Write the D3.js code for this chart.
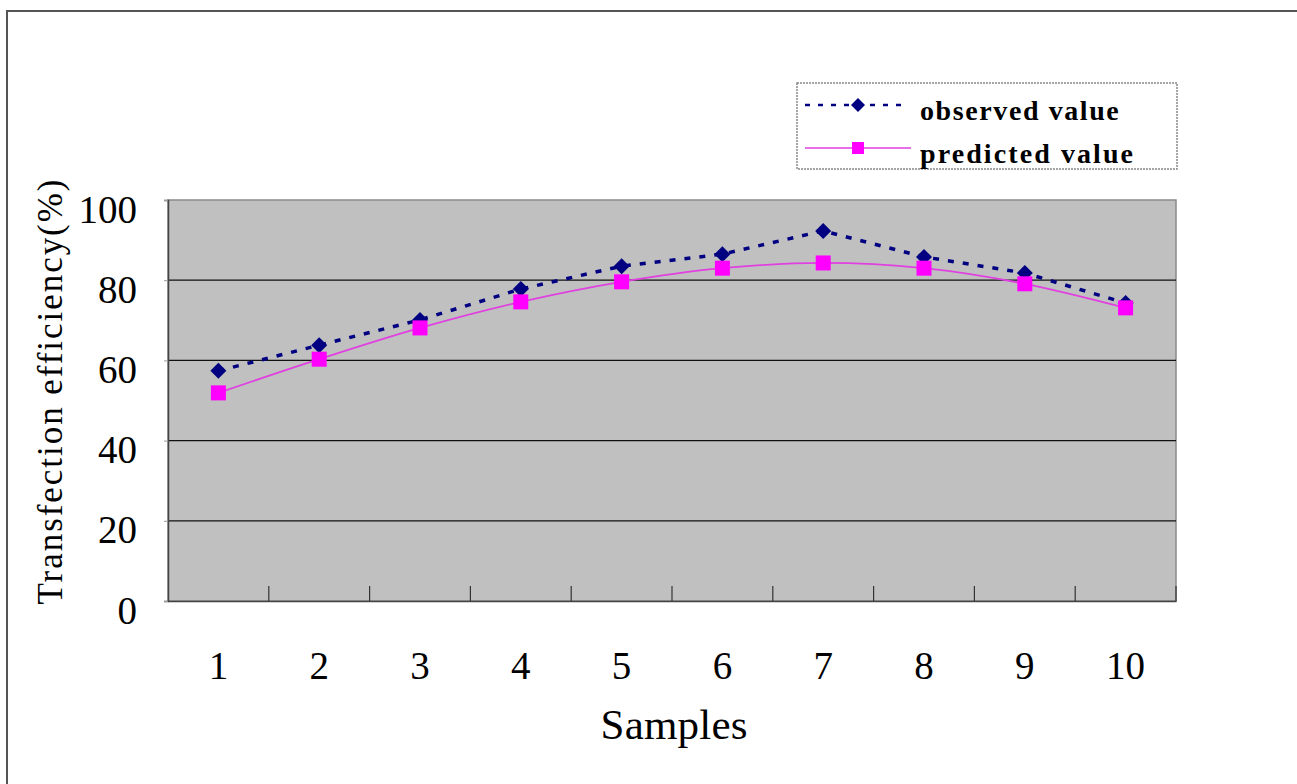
<!DOCTYPE html>
<html><head><meta charset="utf-8">
<script src="https://cdn.jsdelivr.net/npm/d3@7/dist/d3.min.js"></script>
<style>html,body{margin:0;padding:0;background:#fff;}svg{display:block;}</style>
</head><body>
<svg id="chart" width="1297" height="784"></svg>
<script>
const categories = ["1","2","3","4","5","6","7","8","9","10"];
const observed = [57.4, 63.8, 70.1, 77.8, 83.5, 86.5, 92.3, 85.8, 81.8, 74.3];
const predicted = [51.9, 60.3, 68.1, 74.6, 79.6, 83.0, 84.3, 83.0, 79.1, 73.1];
const yTicks = [0, 20, 40, 60, 80, 100];
const seriesNames = ["observed value", "predicted value"];

const svg = d3.select("#chart");
const L = 168, R = 1176, T = 200, B = 601;
const x = d3.scaleBand().domain(categories).range([L, R]).padding(0);
const y = d3.scaleLinear().domain([0, 100]).range([B, T]);
const SERIF = "'Liberation Serif', 'Times New Roman', serif";

// outer frame
svg.append("path").attr("d", `M7,784 L7,11 L1297,11`).attr("fill","none")
  .attr("stroke","#555").attr("stroke-width",2);

// plot area
svg.append("rect").attr("x",L).attr("y",T).attr("width",R-L).attr("height",B-T)
  .attr("fill","#c0c0c0").attr("stroke","#8a8a8a").attr("stroke-width",1.5);

// gridlines
svg.append("g").selectAll("line").data(yTicks.filter(d=>d>0 && d<100)).join("line")
  .attr("x1",L).attr("x2",R).attr("y1",d=>y(d)).attr("y2",d=>y(d))
  .attr("stroke","#111").attr("stroke-width",1.3);

// y axis
const ya = svg.append("g").attr("transform",`translate(${L},0)`)
  .call(d3.axisLeft(y).tickValues(yTicks).tickSize(4).tickPadding(27));
ya.select(".domain").attr("stroke","#444").attr("stroke-width",1.5);
ya.selectAll(".tick line").attr("stroke","#999");
ya.selectAll("text").attr("dy",22).attr("font-family",SERIF)
  .attr("font-size",39).attr("fill","#000");

// x axis
const xa = svg.append("g").attr("transform",`translate(0,${B})`)
  .call(d3.axisBottom(x).tickSize(0).tickPadding(50));
xa.select(".domain").attr("stroke","#444").attr("stroke-width",1.5);
xa.selectAll("text").attr("font-family",SERIF)
  .attr("font-size",39).attr("fill","#000");
// category boundary ticks (inside)
svg.append("g").selectAll("line").data(categories.slice(1).concat(["__end"])).join("line")
  .attr("x1",d=>d==="__end"?R:x(d)).attr("x2",d=>d==="__end"?R:x(d))
  .attr("y1",B).attr("y2",B-15).attr("stroke","#333").attr("stroke-width",1.2);

const cx = d => x(d) + x.bandwidth()/2;

// observed line
const lineObs = d3.line().x((d,i)=>cx(categories[i])).y(d=>y(d));
svg.append("path").datum(observed).attr("d",lineObs).attr("fill","none")
  .attr("stroke","#000080").attr("stroke-width",3.5).attr("stroke-dasharray","6,9");

// predicted line (smoothed)
const linePred = d3.line().x((d,i)=>cx(categories[i])).y(d=>y(d)).curve(d3.curveCatmullRom.alpha(0.5));
svg.append("path").datum(predicted).attr("d",linePred).attr("fill","none")
  .attr("stroke","#e040e0").attr("stroke-width",1.8);

// markers
const diamond = (s)=>`M0,${-s} L${s},0 L0,${s} L${-s},0 Z`;
svg.append("g").selectAll("path").data(observed).join("path")
  .attr("transform",(d,i)=>`translate(${cx(categories[i])},${y(d)})`)
  .attr("d",diamond(8)).attr("fill","#000080");
svg.append("g").selectAll("rect").data(predicted).join("rect")
  .attr("x",(d,i)=>cx(categories[i])-7.5).attr("y",d=>y(d)-7.5)
  .attr("width",15).attr("height",15).attr("fill","#ff00ff");

// axis titles
svg.append("text").attr("x",674).attr("y",739).attr("text-anchor","middle")
  .attr("font-family",SERIF).attr("font-size",43)
  .attr("textLength",147).attr("lengthAdjust","spacing").text("Samples");
svg.append("text").attr("transform","translate(62,392) rotate(-90)").attr("text-anchor","middle")
  .attr("font-family",SERIF).attr("font-size",35)
  .attr("textLength",425).attr("lengthAdjust","spacing").text("Transfection efficiency(%)");

// legend
const lg = svg.append("g");
lg.append("rect").attr("x",797).attr("y",83).attr("width",380).attr("height",86)
  .attr("fill","#fff").attr("stroke","#888").attr("stroke-width",1.5).attr("stroke-dasharray","2,1");
const legY = [105, 148];
lg.append("line").attr("x1",805).attr("x2",905).attr("y1",legY[0]).attr("y2",legY[0])
  .attr("stroke","#000080").attr("stroke-width",2.5).attr("stroke-dasharray","5,8");
lg.append("path").attr("transform",`translate(858,${legY[0]})`).attr("d",diamond(7)).attr("fill","#000080");
lg.append("line").attr("x1",805).attr("x2",911).attr("y1",legY[1]).attr("y2",legY[1])
  .attr("stroke","#e040e0").attr("stroke-width",1.5);
lg.append("rect").attr("x",852).attr("y",legY[1]-6).attr("width",12).attr("height",12).attr("fill","#ff00ff");
lg.selectAll("text.leg").data(seriesNames).join("text").attr("class","leg")
  .attr("x",920).attr("y",(d,i)=>legY[i]+15)
  .attr("font-family",SERIF).attr("font-weight","bold").attr("font-size",28)
  .attr("textLength",(d)=>d.length*14.2).attr("lengthAdjust","spacing").text(d=>d);
</script>
</body></html>
